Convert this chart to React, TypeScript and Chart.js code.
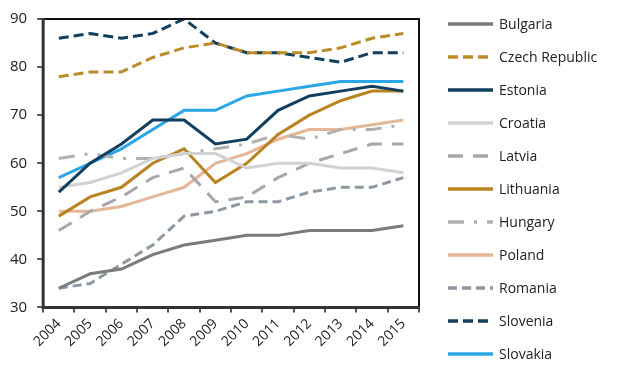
import React, { useEffect, useRef } from "react";
import { Chart, registerables } from "chart.js";

Chart.register(...registerables);

const years = ["2004", "2005", "2006", "2007", "2008", "2009", "2010", "2011", "2012", "2013", "2014", "2015"];

const bulgaria = [34, 37, 38, 41, 43, 44, 45, 45, 46, 46, 46, 47];
const czechRepublic = [78, 79, 79, 82, 84, 85, 83, 83, 83, 84, 86, 87];
const estonia = [54, 60, 64, 69, 69, 64, 65, 71, 74, 75, 76, 75];
const croatia = [55, 56, 58, 61, 62, 62, 59, 60, 60, 59, 59, 58];
const latvia = [46, 50, 53, 57, 59, 52, 53, 57, 60, 62, 64, 64];
const lithuania = [49, 53, 55, 60, 63, 56, 60, 66, 70, 73, 75, 75];
const hungary = [61, 62, 61, 61, 62, 63, 64, 66, 65, 67, 67, 68];
const poland = [50, 50, 51, 53, 55, 60, 62, 65, 67, 67, 68, 69];
const romania = [34, 35, 39, 43, 49, 50, 52, 52, 54, 55, 55, 57];
const slovenia = [86, 87, 86, 87, 90, 85, 83, 83, 82, 81, 83, 83];
const slovakia = [57, 60, 63, 67, 71, 71, 74, 75, 76, 77, 77, 77];

const yMin = 30;
const yMax = 90;
const yStep = 10;

type Series = { label: string; data: number[]; color: string; dash: number[] };

const seriesList: Series[] = [
  { label: "Bulgaria", data: bulgaria, color: "#7B7B7B", dash: [] },
  { label: "Czech Republic", data: czechRepublic, color: "#BD8A2A", dash: [10, 5] },
  { label: "Estonia", data: estonia, color: "#123F5E", dash: [] },
  { label: "Croatia", data: croatia, color: "#D2D2D2", dash: [] },
  { label: "Latvia", data: latvia, color: "#A8A8A8", dash: [15, 10] },
  { label: "Lithuania", data: lithuania, color: "#B98321", dash: [] },
  { label: "Hungary", data: hungary, color: "#B0B0B0", dash: [16, 10, 3, 10] },
  { label: "Poland", data: poland, color: "#E6B797", dash: [] },
  { label: "Romania", data: romania, color: "#8E98A2", dash: [9, 5] },
  { label: "Slovenia", data: slovenia, color: "#123F5E", dash: [10, 5] },
  { label: "Slovakia", data: slovakia, color: "#2AA7E6", dash: [] },
];

const FONT = "'Open Sans', 'Noto Sans', sans-serif";

const framePlugin = {
  id: "frame",
  afterDatasetsDraw(chart: any) {
    const { ctx, chartArea: a } = chart;
    ctx.save();
    ctx.strokeStyle = "#111";
    ctx.lineWidth = 2;
    ctx.beginPath();
    ctx.moveTo(a.left, a.top);
    ctx.lineTo(a.right, a.top);
    ctx.lineTo(a.right, a.bottom);
    ctx.stroke();
    ctx.strokeStyle = "#333";
    ctx.lineWidth = 3;
    ctx.beginPath();
    ctx.moveTo(a.left, a.top - 1);
    ctx.lineTo(a.left, a.bottom);
    ctx.lineTo(a.right + 1, a.bottom);
    ctx.stroke();
    ctx.restore();
  },
};

function LegendSample({ color, dash }: { color: string; dash: number[] }) {
  return (
    <svg width={45} height={6} style={{ display: "block" }}>
      <line
        x1={0}
        y1={3}
        x2={45}
        y2={3}
        stroke={color}
        strokeWidth={3.5}
        strokeDasharray={dash.length ? dash.join(" ") : undefined}
      />
    </svg>
  );
}

export default function App() {
  const canvasRef = useRef<HTMLCanvasElement | null>(null);

  useEffect(() => {
    document.body.style.margin = "0";
    const canvas = canvasRef.current;
    if (!canvas) return;
    const chart = new Chart(canvas, {
      type: "line",
      data: {
        labels: years,
        datasets: seriesList.map((s) => ({
          label: s.label,
          data: s.data,
          borderColor: s.color,
          backgroundColor: s.color,
          borderDash: s.dash,
          borderWidth: 3,
          pointRadius: 0,
          tension: 0,
          fill: false,
        })),
      },
      options: {
        responsive: false,
        animation: false,
        layout: { padding: { left: 0, right: 201, top: 10, bottom: 14 } },
        plugins: {
          legend: { display: false },
          tooltip: { enabled: false },
        },
        scales: {
          x: {
            type: "category",
            offset: true,
            border: { display: false },
            grid: {
              display: true,
              offset: true,
              drawOnChartArea: false,
              drawTicks: true,
              tickLength: 5,
              color: "#555",
              lineWidth: 2,
            },
            ticks: {
              autoSkip: false,
              maxRotation: 45,
              minRotation: 45,
              padding: 3,
              color: "#222",
              font: { family: FONT, size: 14 },
            },
          },
          y: {
            min: yMin,
            max: yMax,
            border: { display: false },
            grid: {
              display: true,
              drawOnChartArea: false,
              drawTicks: true,
              tickLength: 6,
              color: "#555",
              lineWidth: 2,
            },
            ticks: {
              stepSize: yStep,
              padding: 10,
              color: "#222",
              font: { family: FONT, size: 15 },
            },
          },
        },
      },
      plugins: [framePlugin],
    });
    return () => chart.destroy();
  }, []);

  return (
    <div style={{ position: "relative", width: 620, height: 367, background: "#fff", overflow: "hidden" }}>
      <canvas ref={canvasRef} width={620} height={367} style={{ position: "absolute", left: 0, top: 0 }} />
      <div style={{ position: "absolute", left: 448, top: 7 }}>
        {seriesList.map((s) => (
          <div
            key={s.label}
            style={{
              display: "flex",
              alignItems: "center",
              height: 33,
              fontFamily: FONT,
              fontSize: 14,
              color: "#222",
              whiteSpace: "nowrap",
            }}
          >
            <LegendSample color={s.color} dash={s.dash} />
            <span style={{ marginLeft: 6 }}>{s.label}</span>
          </div>
        ))}
      </div>
    </div>
  );
}
